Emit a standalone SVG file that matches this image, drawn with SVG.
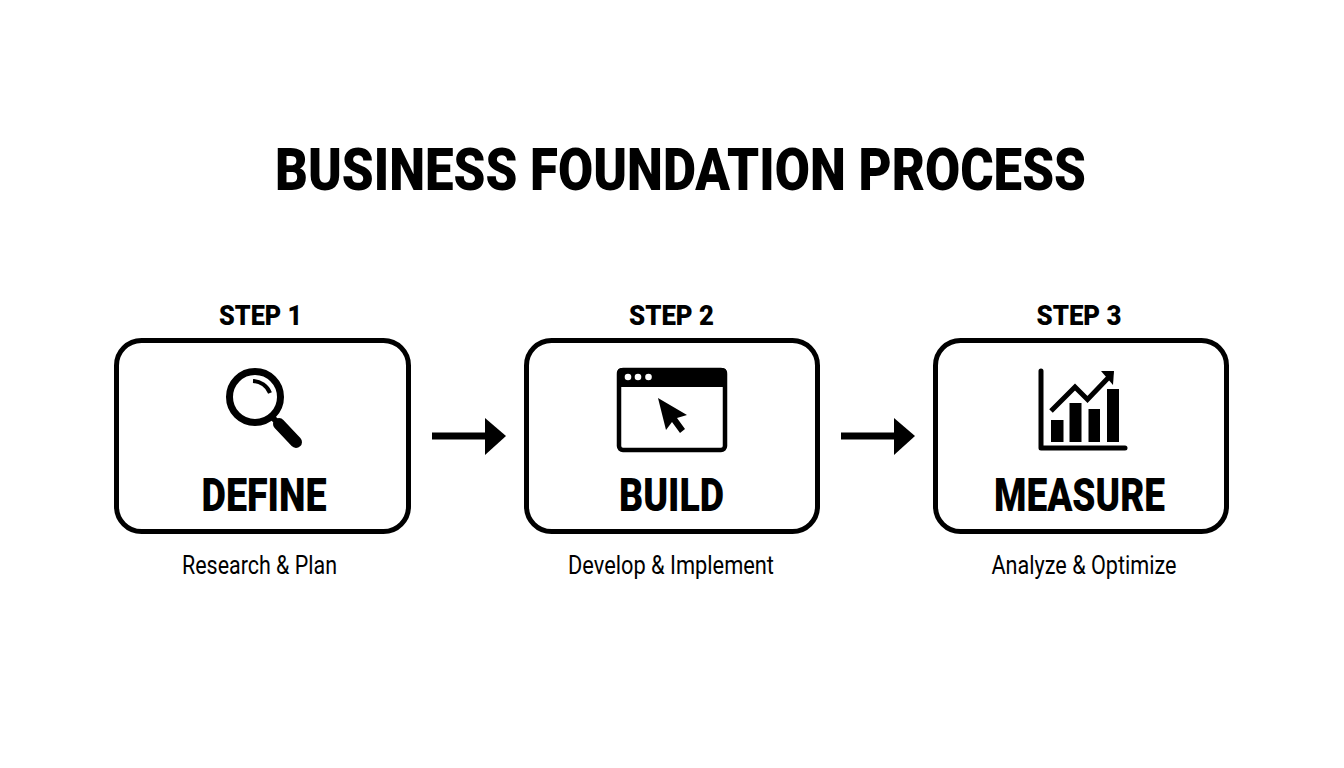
<svg xmlns="http://www.w3.org/2000/svg" width="1344" height="768" viewBox="0 0 1344 768">
<style>
text{font-family:"Roboto","Liberation Sans",sans-serif;fill:#000;text-anchor:middle}
.title{font-size:59px;font-weight:900}
.step{font-size:28px;font-weight:900}
.name{font-size:46px;font-weight:900}
.sub{font-size:25px;font-weight:400}
.box{fill:#fff;stroke:#000;stroke-width:5}
.ink{fill:#000;stroke:none}
.ln{fill:none;stroke:#000}
</style>
<rect width="1344" height="768" fill="#fff"/>
<text class="title" x="680.500" y="189.500" textLength="811" lengthAdjust="spacingAndGlyphs">BUSINESS FOUNDATION PROCESS</text>
<g id="connectors">
<g id="arrow-1"><rect class="ink" x="432" y="432.500" width="54" height="7"/><path class="ink" d="M485 418L506 436L485 455Z"/></g>
<g id="arrow-2"><rect class="ink" x="841" y="432.500" width="54" height="7"/><path class="ink" d="M894 418L915 436L894 455Z"/></g>
</g>
<g id="step-1">
<text class="step" x="260.500" y="325" textLength="83" lengthAdjust="spacingAndGlyphs">STEP 1</text>
<rect class="box" x="116.500" y="340.500" width="292" height="191" rx="25"/>
<circle class="ln" cx="255" cy="397" r="25.500" stroke-width="7"/>
<path class="ln" d="M253 381A19 19 0 0 1 270 393" stroke-width="4"/>
<path class="ln" d="M272 417L279 424" stroke-width="6"/>
<path class="ln" d="M279 424L296 442" stroke-width="12" stroke-linecap="round"/>
<text class="name" x="264" y="511" textLength="125" lengthAdjust="spacingAndGlyphs">DEFINE</text>
<text class="sub" x="259.500" y="574" textLength="155" lengthAdjust="spacingAndGlyphs">Research &amp; Plan</text>
</g>
<g id="step-2">
<text class="step" x="671.500" y="325" textLength="85" lengthAdjust="spacingAndGlyphs">STEP 2</text>
<rect class="box" x="526.500" y="340.500" width="291" height="191" rx="25"/>
<rect class="ln" x="619" y="370" width="106" height="80" rx="4" stroke-width="4.500"/>
<path class="ink" d="M617 387V373Q617 368 622 368H722Q727 368 727 373V387Z"/>
<g fill="#fff"><circle cx="628" cy="377" r="3.300"/><circle cx="638" cy="377" r="3.300"/><circle cx="648.500" cy="377" r="3.300"/></g>
<path class="ink" d="M658 398L687 415L677 418L685 429L680 433L672 422L666 430Z"/>
<text class="name" x="671.500" y="511" textLength="105" lengthAdjust="spacingAndGlyphs">BUILD</text>
<text class="sub" x="671" y="574" textLength="206" lengthAdjust="spacingAndGlyphs">Develop &amp; Implement</text>
</g>
<g id="step-3">
<text class="step" x="1079" y="325" textLength="85" lengthAdjust="spacingAndGlyphs">STEP 3</text>
<rect class="box" x="935.500" y="340.500" width="291" height="191" rx="25"/>
<path class="ln" d="M1041 371V448H1125" stroke-width="5" stroke-linecap="round" stroke-linejoin="round"/>
<rect class="ink" x="1051" y="420" width="12.500" height="22"/>
<rect class="ink" x="1069.500" y="403" width="12" height="39"/>
<rect class="ink" x="1088.500" y="409" width="11.500" height="33"/>
<rect class="ink" x="1107" y="389" width="12" height="53"/>
<path class="ln" d="M1051 411L1075 387L1087.500 399.500L1109 377" stroke-width="5"/>
<path class="ink" d="M1101 371L1114 371L1113 385Z"/>
<text class="name" x="1079.500" y="511" textLength="171" lengthAdjust="spacingAndGlyphs">MEASURE</text>
<text class="sub" x="1084" y="574" textLength="185" lengthAdjust="spacingAndGlyphs">Analyze &amp; Optimize</text>
</g>
</svg>
